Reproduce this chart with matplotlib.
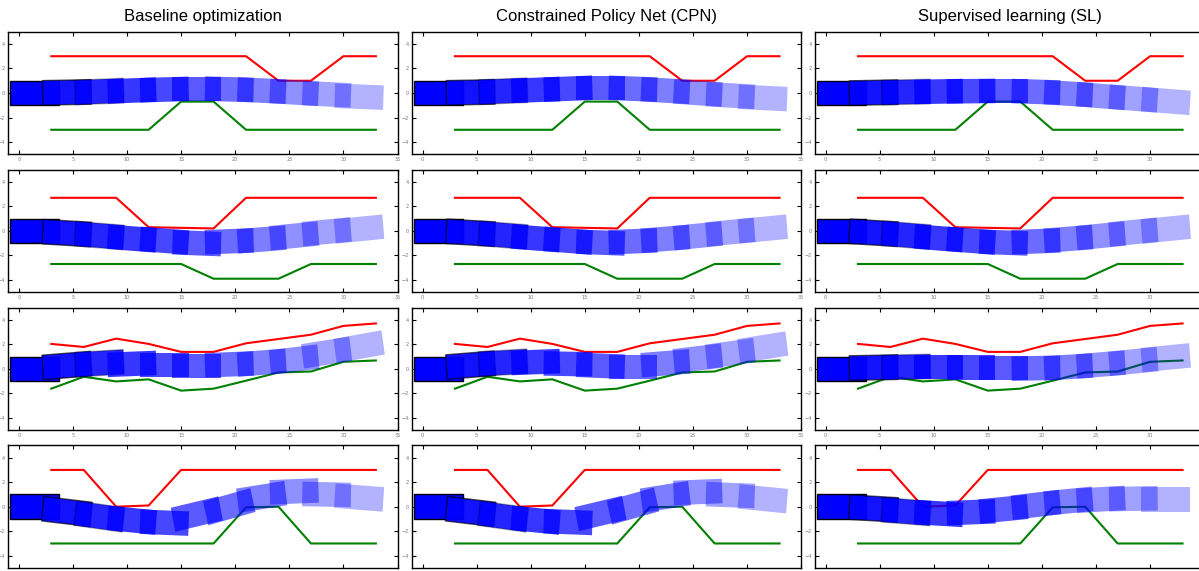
import numpy as np
import matplotlib
matplotlib.use("Agg")
import matplotlib.pyplot as plt
from matplotlib.patches import Rectangle

# ── Podaci ───────────────────────────────────────────────────
naslovi = ["Baseline optimization", "Constrained Policy Net (CPN)", "Supervised learning (SL)"]

# x tacke granica puta
granica_x = [3, 6, 9, 12, 15, 18, 21, 24, 27, 30, 33]

# gornja (crvena) i donja (zelena) granica, po redovima
gornja = [
    [3.0, 3.0, 3.0, 3.0, 3.0, 3.0, 3.0, 1.0, 1.0, 3.0, 3.0],
    [2.7, 2.7, 2.7, 0.3, 0.25, 0.2, 2.7, 2.7, 2.7, 2.7, 2.7],
    [2.03, 1.78, 2.46, 2.03, 1.38, 1.38, 2.08, 2.43, 2.78, 3.5, 3.7],
    [3.0, 3.0, 0.0, 0.1, 3.0, 3.0, 3.0, 3.0, 3.0, 3.0, 3.0],
]
donja = [
    [-3.0, -3.0, -3.0, -3.0, -0.7, -0.7, -3.0, -3.0, -3.0, -3.0, -3.0],
    [-2.7, -2.7, -2.7, -2.7, -2.7, -3.9, -3.9, -3.9, -2.7, -2.7, -2.7],
    [-1.62, -0.65, -1.03, -0.86, -1.78, -1.62, -0.97, -0.3, -0.22, 0.57, 0.68],
    [-3.0, -3.0, -3.0, -3.0, -3.0, -3.0, -0.05, 0.0, -3.0, -3.0, -3.0],
]

# centri vozila po x (isti za sve panele)
auto_x = [1.45, 4.45, 7.45, 10.45, 13.45, 16.45, 19.45, 22.45, 25.45, 28.45, 31.45]

# y centri i uglovi (stepeni) vozila: [metod][red]
baseline_y = [
    [0, 0.05, 0.12, 0.2, 0.28, 0.33, 0.3, 0.2, 0.05, -0.1, -0.3],
    [0, -0.18, -0.38, -0.62, -0.8, -1.0, -0.85, -0.7, -0.4, -0.07, 0.15],
    [0, 0.27, 0.45, 0.4, 0.3, 0.23, 0.36, 0.5, 0.76, 1.33, 1.8],
    [0, -0.4, -0.8, -1.1, -1.3, -0.6, 0.0, 0.8, 1.25, 1.0, 0.75],
]
baseline_ugao = [
    [0, 1, 2, 2, 1.5, 0, -1.5, -2.5, -3, -2.5, -2],
    [0, -3, -4, -4, -4, -2, 2, 4, 5, 5, 5],
    [0, 4, 3, 2, 0, 0, 2, 4, 6, 8, 9],
    [0, -6, -7, -5, -2, 12, 14, 8, 2, -1, -4],
]
cpn_y = [
    [0, 0.05, 0.15, 0.25, 0.35, 0.4, 0.35, 0.2, 0.0, -0.2, -0.4],
    [0, -0.15, -0.35, -0.6, -0.8, -0.95, -0.85, -0.65, -0.4, -0.1, 0.15],
    [0, 0.3, 0.5, 0.55, 0.4, 0.25, 0.15, 0.45, 0.85, 1.25, 1.75],
    [0, -0.4, -0.8, -1.1, -1.25, -0.55, 0.05, 0.8, 1.2, 0.95, 0.65],
]
cpn_ugao = [
    [0, 1, 2, 2, 2, 0, -2, -3, -3.5, -3, -2.5],
    [0, -3, -4, -4, -4, -2, 2, 4, 5, 5, 5],
    [0, 4, 3, 2, -1, -2, 0, 4, 6, 7, 8],
    [0, -6, -7, -5, -2, 12, 14, 8, 2, -2, -5],
]
sl_y = [
    [0, 0.03, 0.08, 0.12, 0.15, 0.15, 0.1, -0.05, -0.25, -0.45, -0.65],
    [0, -0.15, -0.35, -0.6, -0.8, -0.95, -0.85, -0.65, -0.4, -0.1, 0.15],
    [0, 0.1, 0.15, 0.15, 0.1, 0.05, 0.05, 0.15, 0.35, 0.6, 0.9],
    [0, -0.15, -0.4, -0.55, -0.45, -0.2, 0.15, 0.45, 0.6, 0.65, 0.6],
]
sl_ugao = [
    [0, 1, 1, 1, 0.5, 0, -1.5, -3, -4, -4, -4],
    [0, -3, -4, -4, -4, -2, 2, 4, 5, 5, 5],
    [0, 1, 1, 0, 0, 0, 1, 3, 4, 5, 5],
    [0, -3, -4, -3, 2, 5, 6, 5, 3, 1, 0],
]

svi_y = [baseline_y, cpn_y, sl_y]
svi_uglovi = [baseline_ugao, cpn_ugao, sl_ugao]

# ── Podesavanja crteza ───────────────────────────────────────
DUZINA, SIRINA = 4.5, 2.0
W, H = 1199, 571
levo = [8, 411.7, 814.7]
vrh = [31.7, 169.6, 307.5, 445.4]
sir_ax, vis_ax = 389.5, 122.6

fig = plt.figure(figsize=(W / 100, H / 100), dpi=100)
alfe = np.linspace(1.0, 0.3, len(auto_x))

for k in range(3):
    for r in range(4):
        ax = fig.add_axes([levo[k] / W, 1 - (vrh[r] + vis_ax) / H, sir_ax / W, vis_ax / H])
        ax.plot(granica_x, gornja[r], color="red", lw=1.5, zorder=1)
        ax.plot(granica_x, donja[r], color="green", lw=1.5, zorder=1)

        for i, (cx, cy, ug) in enumerate(zip(auto_x, svi_y[k][r], svi_uglovi[k][r])):
            ivica = max(0.0, 1 - 0.35 * i)
            rect = Rectangle((cx - DUZINA / 2, cy - SIRINA / 2), DUZINA, SIRINA,
                             angle=ug, rotation_point="center",
                             facecolor=(0, 0, 1, alfe[i]),
                             edgecolor=(0, 0, 0, ivica), lw=1.0, zorder=2)
            ax.add_patch(rect)

        ax.set_xlim(-1, 35)
        ax.set_ylim(-5, 5)
        ax.set_xticks(range(0, 36, 5))
        ax.set_yticks([-4, -2, 0, 2, 4])
        ax.tick_params(direction="in", top=True, right=True, length=3, width=0.8,
                       labelsize=3.5, labelcolor="#777777", pad=2)
        for s in ax.spines.values():
            s.set_linewidth(1.0)
            s.set_color("black")

        if r == 0:
            ax.set_title(naslovi[k], fontsize=12, family="Liberation Sans", pad=8)

fig.savefig("out.png", dpi=100)
